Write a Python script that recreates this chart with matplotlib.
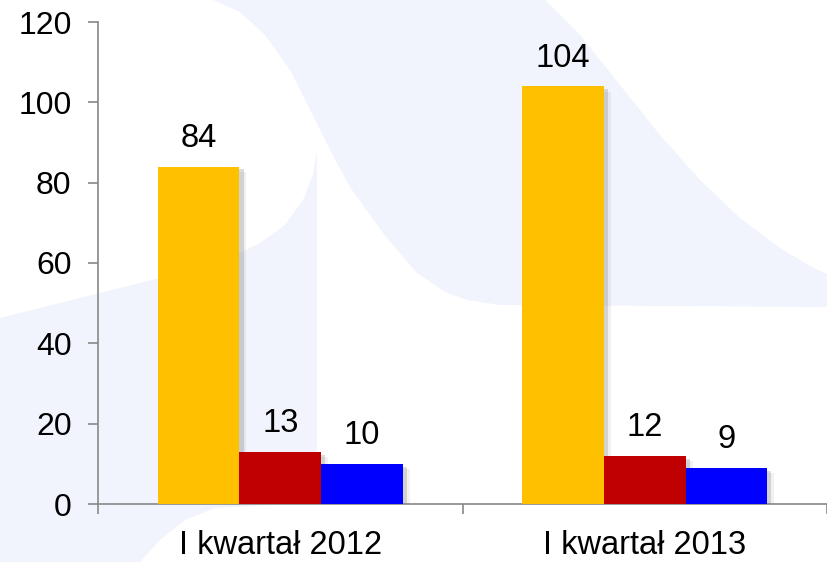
import numpy as np
import matplotlib
matplotlib.use("Agg")
import matplotlib.pyplot as plt
import matplotlib.patheffects as pe
from matplotlib.patches import Polygon

plt.rcParams['font.family'] = ['Liberation Sans', 'DejaVu Sans']

categories = ["I kwartał 2012", "I kwartał 2013"]
series_a = [84, 104]   # orange
series_b = [13, 12]    # dark red
series_c = [10, 9]     # blue
colors = ["#FFC000", "#C00000", "#0000FF"]

W, H = 827, 562
fig = plt.figure(figsize=(W / 100, H / 100), dpi=100)

# faint watermark shapes in the background (pixel coords of the figure)
def px_poly(pts):
    xy = [(x / W, 1 - y / H) for x, y in pts]
    return Polygon(xy, closed=True, transform=fig.transFigure,
                   facecolor="#F2F4FD", edgecolor="none", zorder=0)

band = [(213, 0), (545, 0), (580, 35), (620, 85), (660, 135), (700, 180),
        (740, 218), (780, 248), (810, 266), (827, 274), (827, 307),
        (500, 305), (467, 300), (445, 292), (417, 273), (383, 233),
        (350, 187), (330, 150), (310, 110), (290, 70), (265, 35), (240, 12)]
lower = [(0, 318), (60, 303), (120, 288), (180, 273), (230, 258),
         (260, 243), (285, 225), (303, 200), (313, 175), (317, 150),
         (317, 460), (305, 490), (270, 505), (215, 508), (185, 520),
         (160, 540), (140, 562), (0, 562)]
fig.add_artist(px_poly(band))
fig.add_artist(px_poly(lower))

ax = fig.add_axes([98 / W, (H - 504) / H, 1 - 98 / W, 482 / H])
ax.patch.set_alpha(0)

x = np.arange(len(categories))
w = 0.224
shadow = [pe.SimplePatchShadow(offset=(5, -4), shadow_rgbFace="#777777", alpha=0.1),
          pe.SimplePatchShadow(offset=(3, -2), shadow_rgbFace="#777777", alpha=0.25),
          pe.Normal()]
for i, (vals, c) in enumerate(zip([series_a, series_b, series_c], colors)):
    bars = ax.bar(x + (i - 1) * w, vals, width=w, color=c, zorder=3)
    for b in bars:
        b.set_path_effects(shadow)
    for xi, v in zip(x + (i - 1) * w, vals):
        ax.annotate(str(v), (xi, v), xytext=(0, 9), textcoords="offset points",
                    ha="center", va="bottom", fontsize=23.5)

ax.set_ylim(0, 120)
ax.set_yticks(range(0, 121, 20))
ax.set_xlim(-0.5, 1.454)
ax.set_xticks(x)
ax.set_xticklabels(categories)
ax.set_xticks([-0.5, 0.5, 1.5], minor=True)
ax.tick_params(axis="x", which="major", length=0, pad=19, labelsize=23.5)
ax.tick_params(axis="x", which="minor", length=7, color="#888888", width=1.2)
ax.tick_params(axis="y", length=7, color="#888888", width=1.2, pad=12, labelsize=23)

for s in ["top", "right"]:
    ax.spines[s].set_visible(False)
for s in ["left", "bottom"]:
    ax.spines[s].set_color("#888888")
    ax.spines[s].set_linewidth(1.2)

fig.savefig("out.png", dpi=100)
